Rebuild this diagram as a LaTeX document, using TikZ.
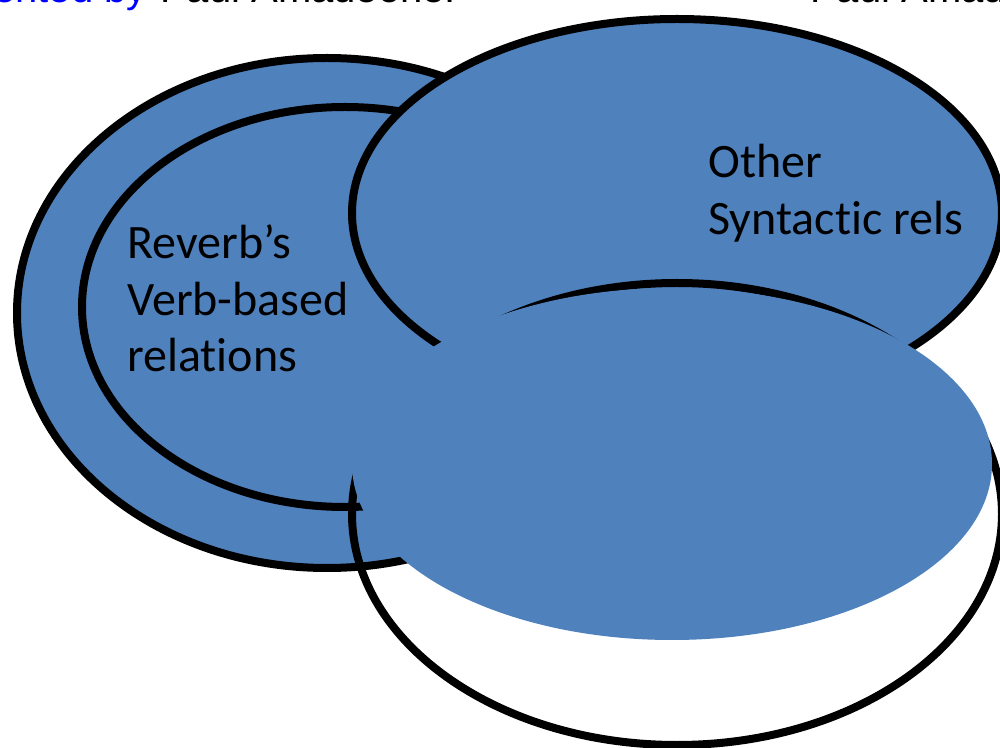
\documentclass[tikz,border=0pt]{standalone}
\usepackage{fontspec}
\setmainfont[Ligatures=NoCommon]{Carlito}
\newfontfamily\headfont{Liberation Sans}
\definecolor{setblue}{HTML}{4F81BD}
\definecolor{linkblue}{HTML}{0000FF}
\begin{document}
\begin{tikzpicture}[x=0.75pt,y=-0.75pt,
  setshape/.style={fill=setblue,draw=black,line width=6pt},
  rimshape/.style={draw=black,line width=6pt},
  faceshape/.style={fill=setblue,draw=none},
  label/.style={anchor=base west,inner sep=0pt,font=\fontsize{36}{43}\selectfont},
  header/.style={inner sep=0pt,font=\headfont\fontsize{30}{36}\selectfont}]
\useasboundingbox (0,0) rectangle (1000,748);
\begin{scope}
\clip (0,0) rectangle (1000,748);
% running header along the top edge
\node[header,anchor=base east,text=linkblue] (hdrA) at (147,3) {Presented by};
\node[header,anchor=base west] (hdrB) at (160,3) {Paul Amadeone.};
\node[header,anchor=base west] (hdrC) at (810,3) {Paul Amadeone};
% verb-based relations: outer and inner sets
\draw[setshape] (327,313) ellipse [x radius=232.5pt, y radius=191.25pt];
\draw[setshape] (345,307) ellipse [x radius=197.25pt, y radius=150pt];
% other syntactic relations
\draw[setshape] (677,213) ellipse [x radius=243.75pt, y radius=145.5pt];
% lower set: outline with an offset face
\draw[rimshape] (677,514) ellipse [x radius=243.75pt, y radius=173.25pt];
\fill[faceshape] (672,464) ellipse [x radius=240pt, y radius=132pt];
\end{scope}
% labels
\node[label] (reverbA) at (127,259) {Reverb’s};
\node[label] (reverbB) at (127,316) {Verb-based};
\node[label] (reverbC) at (127,372) {relations};
\node[label] (otherA) at (708,178) {Other};
\node[label] (otherB) at (708,235) {Syntactic rels};
\end{tikzpicture}
\end{document}
